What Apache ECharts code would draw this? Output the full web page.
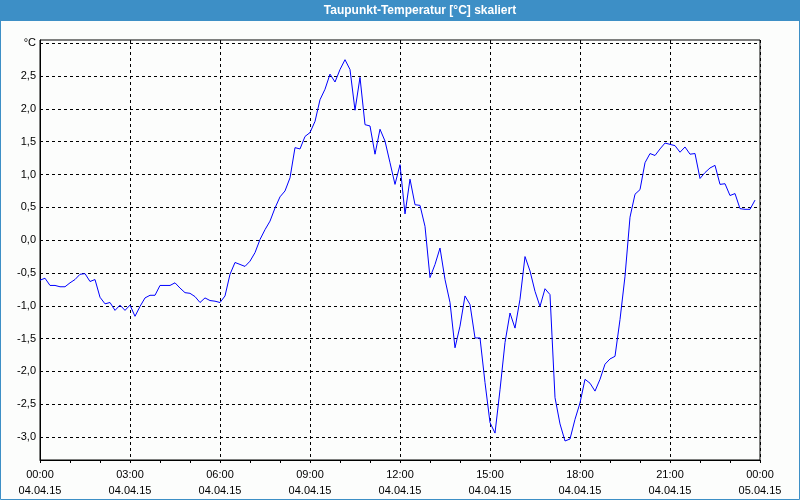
<!DOCTYPE html>
<html>
<head>
<meta charset="utf-8">
<script src="https://cdn.jsdelivr.net/npm/echarts@6/dist/echarts.min.js"></script>
<style>
html,body{margin:0;padding:0;background:#fcfdfc;}
#chart{width:800px;height:500px;}
</style>
</head>
<body>
<div id="chart"></div>
<script>
// ---- Data (10-minute readings, 04.04.15 00:00 .. 23:50) ----
const titleText = 'Taupunkt-Temperatur [°C] skaliert';
const sampleStepHours = 1 / 6;
const dewPoint = [
  -0.61, -0.58, -0.69, -0.69, -0.71, -0.71, -0.65, -0.60, -0.52, -0.51,
  -0.63, -0.60, -0.87, -0.97, -0.95, -1.07, -0.99, -1.07, -0.99, -1.16,
  -1.01, -0.88, -0.84, -0.84, -0.69, -0.69, -0.69, -0.65, -0.73, -0.80,
  -0.81, -0.86, -0.95, -0.88, -0.92, -0.93, -0.95, -0.85, -0.52, -0.34,
  -0.37, -0.40, -0.32, -0.19, 0.01, 0.16, 0.29, 0.49, 0.66, 0.75,
  0.95, 1.41, 1.39, 1.58, 1.64, 1.81, 2.14, 2.30, 2.53, 2.41,
  2.60, 2.75, 2.60, 1.98, 2.48, 1.76, 1.74, 1.31, 1.69, 1.51,
  1.18, 0.85, 1.15, 0.40, 0.93, 0.54, 0.53, 0.21, -0.57, -0.37,
  -0.12, -0.60, -0.95, -1.64, -1.31, -0.85, -0.98, -1.49, -1.49, -2.17,
  -2.78, -2.94, -2.28, -1.56, -1.11, -1.34, -0.90, -0.25, -0.47, -0.78,
  -1.01, -0.74, -0.83, -2.40, -2.80, -3.06, -3.03, -2.73, -2.48, -2.12,
  -2.18, -2.30, -2.12, -1.89, -1.81, -1.77, -1.21, -0.55, 0.35, 0.70,
  0.77, 1.18, 1.32, 1.29, 1.39, 1.48, 1.46, 1.44, 1.34, 1.42,
  1.31, 1.32, 0.94, 1.03, 1.10, 1.14, 0.85, 0.86, 0.68, 0.71,
  0.48, 0.47, 0.47, 0.61
];
const xTickLabels = [
  '00:00\n04.04.15', '03:00\n04.04.15', '06:00\n04.04.15', '09:00\n04.04.15',
  '12:00\n04.04.15', '15:00\n04.04.15', '18:00\n04.04.15', '21:00\n04.04.15',
  '00:00\n05.04.15'
];
const yTicks = [-3.0, -2.5, -2.0, -1.5, -1.0, -0.5, 0.0, 0.5, 1.0, 1.5, 2.0, 2.5, 3.0];
const yTopLabel = '°C';

// ---- Chart ----
const seriesData = dewPoint.map((v, i) => [i * sampleStepHours, v]);
const chart = echarts.init(document.getElementById('chart'), null, {renderer: 'canvas'});
const font = 'Liberation Sans, Arial, sans-serif';
chart.setOption({
  animation: false,
  backgroundColor: '#fcfdfc',
  graphic: [
    {type: 'rect', left: 0, top: 0, z: -10, shape: {x: 0, y: 0, width: 799, height: 499},
     style: {fill: '#fcfdfc', stroke: '#3d8fc6', lineWidth: 1}, silent: true},
    {type: 'rect', left: 0, top: 0, z: -9, shape: {x: 0, y: 0, width: 800, height: 21},
     style: {fill: '#3d8fc6'}, silent: true},
    {type: 'text', x: 420, y: 11, z: 10,
     style: {text: titleText, fill: '#ffffff', font: 'bold 12px ' + font,
             align: 'center', verticalAlign: 'middle'}}
  ],
  grid: {left: 40, right: 40, top: 40, bottom: 40, show: true,
         borderColor: '#000', borderWidth: 1, backgroundColor: 'transparent'},
  xAxis: {
    type: 'value', min: 0, max: 24, interval: 3,
    axisLine: {show: true, onZero: false, lineStyle: {color: '#000', width: 1}},
    axisTick: {show: true, length: 3, lineStyle: {color: '#000'}},
    minorTick: {show: true, splitNumber: 3, length: 3, lineStyle: {color: '#000'}},
    splitLine: {show: true, lineStyle: {color: '#000', type: [3, 3], width: 1}},
    axisLabel: {
      color: '#000', fontFamily: font, fontSize: 11, lineHeight: 16, margin: 7,
      formatter: v => xTickLabels[Math.round(v / 3)] || ''
    }
  },
  yAxis: {
    type: 'value', min: -3.35, max: 3.05,
    axisLine: {show: true, onZero: false, lineStyle: {color: '#000', width: 1}},
    axisTick: {show: false, customValues: yTicks},
    splitLine: {show: true, lineStyle: {color: '#000', type: [3, 3], width: 1}},
    axisLabel: {
      customValues: yTicks, showMinLabel: true, showMaxLabel: true,
      color: '#000', fontFamily: font, fontSize: 11, margin: 4,
      formatter: v => Math.abs(v - 3) < 1e-9 ? yTopLabel : v.toFixed(1).replace('.', ',')
    }
  },
  series: [{
    type: 'line', data: seriesData, showSymbol: false, symbol: 'none',
    lineStyle: {color: '#0000ff', width: 1}, z: 5
  }]
});
</script>
</body>
</html>
